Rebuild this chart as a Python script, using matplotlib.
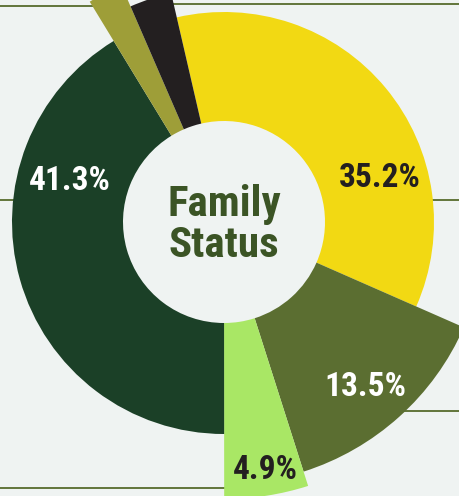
import matplotlib.pyplot as plt

# slices, clockwise from the top (yellow first)
labels = ['35.2%', '13.5%', '4.9%', '41.3%', '', '']
shares = [35.2, 13.5, 4.9, 41.3, 2.2, 2.9]
colors = ['#f2d913', '#5b6e31', '#a9e765', '#1b4027', '#9e9e38', '#231f20']
label_colors = ['#231f20', 'white', '#231f20', 'white', 'white', 'white']
outer_r = [210, 262, 277, 212, 258, 235]
hole_r = 101

bg = '#eff3f2'
line_col = '#62753a'
W, H = 459, 496
font = ['Roboto Condensed', 'Roboto', 'DejaVu Sans']

fig = plt.figure(figsize=(W / 100, H / 100), dpi=100, facecolor=bg)
ax = fig.add_axes([0, 0, 1, 1])

# thin guide lines sitting behind the ring (y measured from the top)
guides = [((0, 100), 6), ((140, W), 3.5), ((0, 40), 200), ((400, W), 200),
          ((380, W), 411), ((0, 224), 488)]
for (x0, x1), y in guides:
    ax.plot([x0, x1], [H - y, H - y], color=line_col, lw=1.4, zorder=0)

cx, cy = 224, H - 222
wedges, _ = ax.pie(shares, colors=colors, startangle=103, counterclock=False,
                   center=(cx, cy), radius=1, wedgeprops=dict(linewidth=0))
for w, r in zip(wedges, outer_r):
    w.set_radius(r)
    w.set_width(r - hole_r)
    w.set_zorder(1)

# percentage labels
label_pos = [(380, 178), (365, 387), (265, 470), (70, 181)]
for (x, y), txt, c in zip(label_pos, labels, label_colors):
    ax.text(x, H - y, txt, color=c, fontsize=24, fontweight='bold',
            family=font, ha='center', va='center', zorder=3)

ax.text(cx, cy - 3, 'Family\nStatus', color='#3b5425', fontsize=31,
        fontweight='bold', family=font, ha='center', va='center',
        linespacing=1.0, zorder=3)

ax.set_xlim(0, W)
ax.set_ylim(0, H)
ax.set_aspect('equal')
ax.axis('off')

fig.savefig('out.png', dpi=100, facecolor=bg)
